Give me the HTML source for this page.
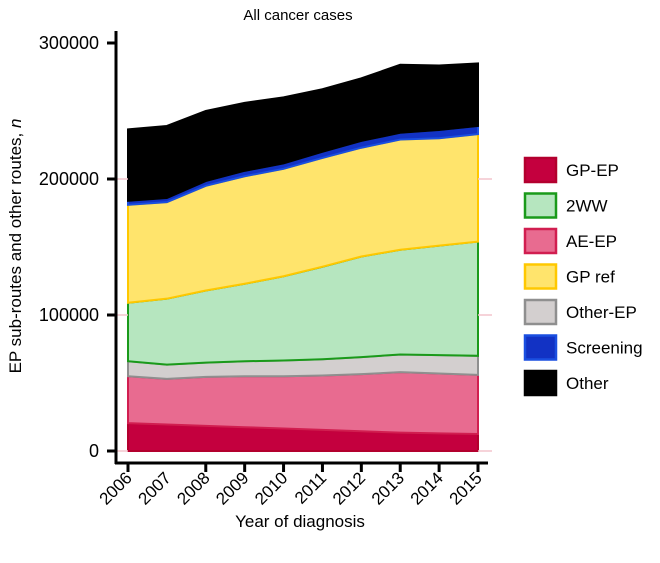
<!DOCTYPE html>
<html><head><meta charset="utf-8"><style>
body{margin:0;background:#fff;}
svg{display:block;font-family:"Liberation Sans",Arial,sans-serif;}
</style></head><body>
<svg id="chart" width="660" height="563">
<text x="298" y="20" font-size="15" text-anchor="middle">All cancer cases</text>
<text x="300" y="527" font-size="17" text-anchor="middle">Year of diagnosis</text>
<text transform="translate(21,246) rotate(-90)" font-size="17" text-anchor="middle">EP sub-routes and other routes, <tspan font-style="italic">n</tspan></text>
<g id="areas"></g><g id="axes"></g><g id="legend"></g>
</svg>
<script>
const years=[2006,2007,2008,2009,2010,2011,2012,2013,2014,2015];
const gpEp=[20500,19500,18500,17500,16500,15500,14500,13500,13000,12500];
const aeEp=[34500,33500,36000,37500,38500,40000,42000,44500,44000,43500];
const otherEp=[11000,10500,10500,11000,11500,12000,12500,13000,13500,14000];
const twoWW=[43000,48500,53000,57000,62000,68000,74000,77000,80500,84000];
const gpRef=[72000,71000,77000,79000,79000,80000,80000,81000,79000,79000];
const screening=[3000,3000,3500,4000,4000,4500,5000,5000,6000,6000];
const other=[52500,53000,51500,50000,48500,46000,46000,50000,47500,46000];
const yTicks=[0,100000,200000,300000];
const tickYears=[2006,2008,2009,2010,2011,2012,2013,2014,2015];
const series=[
 {name:'GP-EP',v:gpEp,f:'#c4003e',s:'#b3002e'},
 {name:'AE-EP',v:aeEp,f:'#e86b90',s:'#d11e50'},
 {name:'Other-EP',v:otherEp,f:'#d3cfcf',s:'#8f8f8f'},
 {name:'2WW',v:twoWW,f:'#b6e6bf',s:'#1a9a1a'},
 {name:'GP ref',v:gpRef,f:'#ffe46c',s:'#ffc800'},
 {name:'Screening',v:screening,f:'#1232c4',s:'#1a4fe0'},
 {name:'Other',v:other,f:'#000',s:'#000'}];
const legendOrder=['GP-EP','2WW','AE-EP','GP ref','Other-EP','Screening','Other'];
const X=y=>128+(y-2006)*(350/9);
const Y=v=>451-v*136/100000;
const NS='http://www.w3.org/2000/svg';
const mk=(t,a,p)=>{const e=document.createElementNS(NS,t);for(const k in a)e.setAttribute(k,a[k]);p.appendChild(e);return e;};
const areas=document.getElementById('areas'),axes=document.getElementById('axes'),leg=document.getElementById('legend');
let base=years.map(()=>0);
series.forEach(s=>{
 const top=base.map((b,i)=>b+s.v[i]);
 let d='M'+years.map((y,i)=>X(y)+','+Y(top[i])).join('L');
 for(let i=years.length-1;i>=0;i--)d+='L'+X(years[i])+','+Y(base[i]);
 d+='Z';
 const p=mk('path',{d:d,fill:s.f,stroke:s.s,'stroke-width':2},areas);
 
 
 base=top;
});
[0,100000,200000].forEach(v=>{const l=mk('line',{x1:478,x2:492,y1:Y(v),y2:Y(v),stroke:'#f2c4cc','stroke-width':1.5},axes);
 
 const l2=mk('line',{x1:116,x2:128,y1:Y(v),y2:Y(v),stroke:'#f2c4cc','stroke-width':1.5},axes);
 });
let l=mk('line',{x1:116,x2:116,y1:31,y2:464,stroke:'#000','stroke-width':3},axes);

l=mk('line',{x1:115,x2:488,y1:463,y2:463,stroke:'#000','stroke-width':3},axes);

yTicks.forEach(v=>{
 const t=mk('line',{x1:107,x2:116,y1:Y(v),y2:Y(v),stroke:'#000','stroke-width':3},axes);
 
 const tx=mk('text',{x:99,y:Y(v)+6,'font-size':18,'text-anchor':'end'},axes);tx.textContent=v;
 
});
tickYears.forEach(y=>{const t=mk('line',{x1:X(y),x2:X(y),y1:463,y2:472,stroke:'#000','stroke-width':3},axes);
 });
years.forEach(y=>{
 const tx=mk('text',{transform:'translate('+(X(y)+5)+',479) rotate(-45)','font-size':17,'text-anchor':'end'},axes);tx.textContent=y;
 
});
legendOrder.forEach((n,i)=>{
 const s=series.find(q=>q.name===n);const cy=170+i*35.5;
 const r=mk('rect',{x:525,y:cy-12,width:31,height:24,fill:s.f,stroke:s.s,'stroke-width':2.5},leg);
 
 const tx=mk('text',{x:566,y:cy+6,'font-size':17},leg);tx.textContent=n;
 
});
</script>
</body></html>
